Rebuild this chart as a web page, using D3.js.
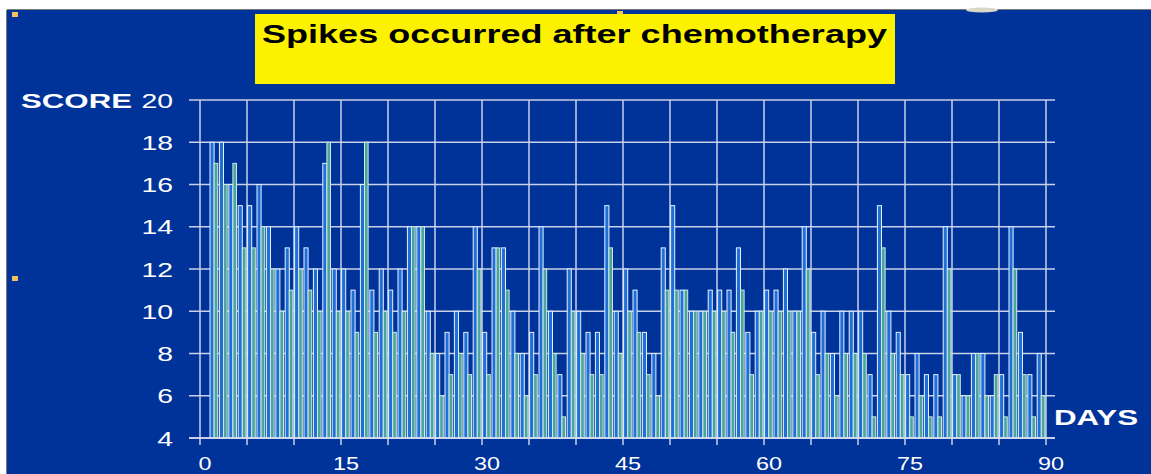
<!DOCTYPE html>
<html>
<head>
<meta charset="utf-8">
<script src="https://cdn.jsdelivr.net/npm/d3@7"></script>
<style>
  body { margin: 0; background: #fff; }
  svg { display: block; }
</style>
</head>
<body>
<svg></svg>
<script>
(function (d3) {
  'use strict';
  const width = 1151;
  const height = 474;

  // day index of each bar group (day 0 has no reading)
  const days = d3.range(1, 90);
  // first reading of the day
  const scoreA = [18,18,16,15,15,16,14,12,13,14,13,12,17,12,12,11,16,11,12,11,
                  12,14,14,10,8,9,10,9,14,9,13,13,10,8,9,14,10,7,12,10,
                  9,9,15,10,12,11,9,8,13,15,11,10,10,11,11,11,13,9,10,11,
                  11,12,10,14,9,10,8,10,10,10,7,15,10,9,7,8,7,7,14,7,
                  6,8,8,6,7,14,9,7,8];
  // second reading of the day
  const scoreB = [17,16,17,13,13,14,12,10,11,12,11,10,18,10,10,9,18,9,10,9,
                  10,14,14,8,6,7,8,7,12,7,13,11,8,6,7,12,8,5,10,8,
                  7,7,13,8,10,9,7,6,11,11,11,10,10,10,10,9,11,7,10,10,
                  10,10,10,12,7,8,6,8,8,8,5,13,8,7,5,6,5,5,12,7,
                  6,8,6,7,5,12,7,5,6];
  const xTickLabels = [0, 15, 30, 45, 60, 75, 90];
  const xGridDays = d3.range(0, 91, 5);
  const yTicks = d3.range(4, 21, 2);
  const title = 'Spikes occurred after chemotherapy';

  const font = 'Liberation Sans, Arial, sans-serif';
  const svg = d3.select('svg').attr('width', width).attr('height', height);

  // slide frame
  svg.append('rect').attr('x', 0).attr('y', 0).attr('width', width).attr('height', height).attr('fill', '#ffffff');
  svg.append('rect').attr('x', 7).attr('y', 10).attr('width', width - 7).attr('height', height - 10).attr('fill', '#003399');
  svg.append('line').attr('x1', 7).attr('x2', width).attr('y1', 9.5).attr('y2', 9.5).attr('stroke', '#7a7a7a');
  svg.append('line').attr('x1', 6.5).attr('x2', 6.5).attr('y1', 10).attr('y2', height).attr('stroke', '#7a7a7a');
  svg.append('ellipse').attr('cx', 982).attr('cy', 10).attr('rx', 16).attr('ry', 2.5).attr('fill', '#d8d8c8');
  [[12, 12], [617, 11], [12, 276]].forEach(p => {
    svg.append('rect').attr('x', p[0]).attr('y', p[1]).attr('width', 6).attr('height', 5)
      .attr('fill', '#f5c060');
  });

  // title box
  svg.append('rect').attr('x', 255).attr('y', 14).attr('width', 640).attr('height', 70)
    .attr('fill', '#fcf200');
  svg.append('text').attr('x', 262).attr('y', 43)
    .attr('font-family', font).attr('font-weight', 'bold')
    .attr('font-size', 25).attr('fill', '#000')
    .attr('textLength', 625).attr('lengthAdjust', 'spacingAndGlyphs')
    .text(title);

  const x = d3.scaleLinear().domain([0, 90]).range([200, 1046]);
  const y = d3.scaleLinear().domain([4, 20]).range([438, 100]);
  const band = d3.scaleBand().domain(['a', 'b']).range([0.6, x(1) - x(0) - 0.6]).paddingInner(0);

  const grid = svg.append('g');
  grid.selectAll('line.h').data(yTicks).enter().append('line')
    .attr('class', 'h')
    .attr('x1', 189).attr('x2', 1055)
    .attr('y1', d => y(d)).attr('y2', d => y(d))
    .attr('stroke', '#c9d1e8').attr('stroke-width', 1.5);
  grid.selectAll('line.v').data(xGridDays).enter().append('line')
    .attr('class', 'v')
    .attr('x1', d => x(d)).attr('x2', d => x(d))
    .attr('y1', y(20)).attr('y2', 445)
    .attr('stroke', '#c9d1e8').attr('stroke-width', 1.5);

  const rows = days.map((d, i) => ({ day: d, a: scoreA[i], b: scoreB[i] }));
  const groups = svg.append('g').selectAll('g').data(rows).enter().append('g')
    .attr('transform', d => 'translate(' + x(d.day) + ',0)');
  groups.append('rect')
    .attr('x', band('a')).attr('width', band.bandwidth())
    .attr('y', d => y(d.a)).attr('height', d => y(4) - y(d.a))
    .attr('fill', '#1f6fd9').attr('stroke', '#e8f2ff').attr('stroke-width', 1);
  groups.append('rect')
    .attr('x', band('b')).attr('width', band.bandwidth() - 0.5)
    .attr('y', d => y(d.b)).attr('height', d => y(4) - y(d.b))
    .attr('fill', '#4da59a').attr('stroke', '#cfe9e6').attr('stroke-width', 1);

  // bottom axis line
  svg.append('line').attr('x1', 189).attr('x2', 1055).attr('y1', y(4)).attr('y2', y(4))
    .attr('stroke', '#d6dcee').attr('stroke-width', 1.5);

  // the slide is stretched sideways, so labels are widened too
  svg.append('g').selectAll('text').data(xTickLabels).enter().append('text')
    .attr('transform', d => 'translate(' + (x(d) + 5) + ',469.5) scale(1.3,1)')
    .attr('text-anchor', 'middle')
    .attr('font-family', font).attr('font-size', 18)
    .attr('fill', '#ffffff')
    .text(d => d);
  svg.append('g').selectAll('text').data(yTicks).enter().append('text')
    .attr('transform', d => 'translate(173,' + (y(d) + 7.5) + ') scale(1.35,1)')
    .attr('text-anchor', 'end')
    .attr('font-family', font).attr('font-size', 21)
    .attr('fill', '#ffffff')
    .text(d => d);

  svg.append('text').attr('x', 21).attr('y', 108)
    .attr('font-family', font).attr('font-weight', 'bold')
    .attr('font-size', 20).attr('fill', '#ffffff')
    .attr('textLength', 111).attr('lengthAdjust', 'spacingAndGlyphs')
    .text('SCORE');
  svg.append('text').attr('x', 1054).attr('y', 425)
    .attr('font-family', font).attr('font-weight', 'bold')
    .attr('font-size', 22).attr('fill', '#ffffff')
    .attr('textLength', 84).attr('lengthAdjust', 'spacingAndGlyphs')
    .text('DAYS');
}(d3));
</script>
</body>
</html>
